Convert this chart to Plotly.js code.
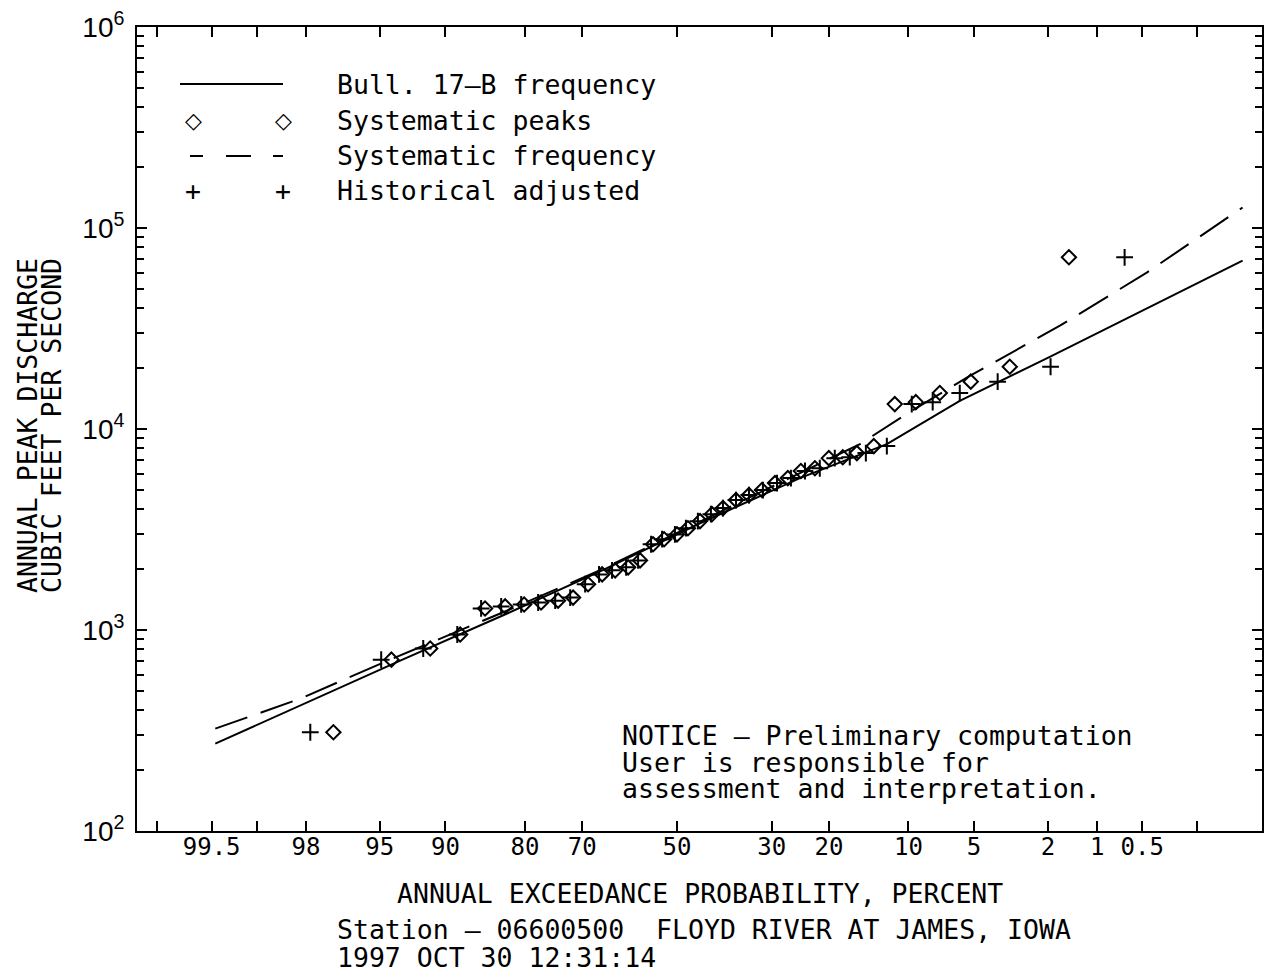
<!DOCTYPE html>
<html><head><meta charset="utf-8">
<script src="https://cdn.plot.ly/plotly-3.0.1.min.js"></script>
<style>html,body{margin:0;padding:0;background:#fff}#chart{width:1264px;height:972px}</style>
</head><body><div id="chart"></div>
<script>
// ---- data (annual exceedance probability in percent, discharge in cfs) ----
const bull17bPct = [99.47, 93.72, 82.63, 66.46, 44.91, 24.80, 12.26, 5.87, 1.95, 0.087];
const bull17bCfs = [272, 704, 1208, 1959, 3396, 5700, 8414, 13800, 22860, 68840];

const sysFreqPct = [99.47, 98.15, 94.37, 83.60, 66.46, 44.91, 24.80, 15.55, 10.17, 5.25, 1.70, 0.465, 0.087];
const sysFreqCfs = [323, 455, 713, 1208, 1982, 3475, 6039, 8414, 11885, 18370, 32650, 59980, 126500];

const peaksCfs = [310, 712, 809, 950, 1280, 1310, 1340, 1370, 1400, 1450, 1690, 1890, 1980, 2050, 2220,
  2670, 2830, 2990, 3210, 3480, 3770, 4040, 4430, 4690, 4970, 5380, 5700, 6180, 6380, 7160, 7240, 7590,
  8220, 13300, 13600, 15100, 17200, 20400, 71500];
const sysPeakPct = [97.14, 94.30, 91.40, 88.49, 85.59, 82.92, 80.12, 77.40, 74.47, 71.73, 68.86, 66.06,
  63.38, 60.64, 58.08, 55.25, 52.83, 49.98, 47.57, 44.91, 42.31, 39.94, 37.18, 34.50, 31.88, 29.36, 26.96,
  24.63, 22.25, 20.02, 17.93, 15.96, 13.79, 11.39, 9.30, 7.28, 5.19, 3.27, 1.50];
const histAdjPct = [97.88, 94.92, 91.99, 88.80, 86.08, 83.47, 80.57, 77.88, 74.98, 72.27, 69.43, 66.68,
  64.02, 61.07, 58.51, 55.69, 53.27, 50.44, 48.01, 45.38, 42.54, 39.94, 37.18, 34.50, 31.70, 28.98, 26.40,
  23.92, 21.45, 19.11, 16.93, 14.78, 12.26, 9.68, 7.84, 5.87, 3.79, 1.93, 0.66];

const tickPct  = [99.5, 98, 95, 90, 80, 70, 50, 30, 20, 10, 5, 2, 1, 0.5];
const tickText = ['99.5', '98', '95', '90', '80', '70', '50', '30', '20', '10', '5', '2', '1', '0.5'];
const unlabeledTickPct = [99.8, 99, 0.2];
const xRangePct = [99.86, 0.06];
const yTickVals = [1e2, 1e3, 1e4, 1e5, 1e6];
const yTickText = ['10<sup>2</sup>', '10<sup>3</sup>', '10<sup>4</sup>', '10<sup>5</sup>', '10<sup>6</sup>'];

// ---- normal-probability scale ----
function normInv(p){
  const a=[-3.969683028665376e+01,2.209460984245205e+02,-2.759285104469687e+02,1.383577518672690e+02,-3.066479806614716e+01,2.506628277459239e+00];
  const b=[-5.447609879822406e+01,1.615858368580409e+02,-1.556989798598866e+02,6.680131188771972e+01,-1.328068155288572e+01];
  const c=[-7.784894002430293e-03,-3.223964580411365e-01,-2.400758277161838e+00,-2.549732539343734e+00,4.374664141464968e+00,2.938163982698783e+00];
  const d=[7.784695709041462e-03,3.224671290700398e-01,2.445134137142996e+00,3.754408661907416e+00];
  const pl=0.02425, ph=1-pl; let q,r;
  if(p<pl){q=Math.sqrt(-2*Math.log(p));return (((((c[0]*q+c[1])*q+c[2])*q+c[3])*q+c[4])*q+c[5])/((((d[0]*q+d[1])*q+d[2])*q+d[3])*q+1);}
  if(p<=ph){q=p-0.5;r=q*q;return (((((a[0]*r+a[1])*r+a[2])*r+a[3])*r+a[4])*r+a[5])*q/(((((b[0]*r+b[1])*r+b[2])*r+b[3])*r+b[4])*r+1);}
  q=Math.sqrt(-2*Math.log(1-p));return -(((((c[0]*q+c[1])*q+c[2])*q+c[3])*q+c[4])*q+c[5])/((((d[0]*q+d[1])*q+d[2])*q+d[3])*q+1);
}
const toZ = pct => normInv(1 - pct/100);

const yMinor = [];
for (let e = 2; e < 6; e++) for (let m = 2; m <= 9; m++) yMinor.push(m * Math.pow(10, e));

const FONT = '"DejaVu Sans Mono", monospace';
const TXT = 26.5;

const traces = [
  {x: bull17bPct.map(toZ), y: bull17bCfs, mode: 'lines', line: {color: 'black', width: 2}, hoverinfo: 'skip'},
  {x: sysPeakPct.map(toZ), y: peaksCfs, mode: 'markers', hoverinfo: 'skip',
   marker: {symbol: 'diamond-open', size: 11, color: 'black', line: {width: 2, color: 'black'}}},
  {x: sysFreqPct.map(toZ), y: sysFreqCfs, mode: 'lines', line: {color: 'black', width: 2, dash: '34px,14px'}, hoverinfo: 'skip'},
  {x: histAdjPct.map(toZ), y: peaksCfs, mode: 'markers', hoverinfo: 'skip',
   marker: {symbol: 'cross-thin-open', size: 12, color: 'black', line: {width: 2, color: 'black'}}}
];

// helpers to place layout decorations in pixel terms relative to the plot frame (137..1262, 27..831)
const PX = px => (px - 137) / 1125;
const PY = py => (831 - py) / 804;
function txt(text, px, py, opts) {
  return Object.assign({text: text, x: PX(px), y: PY(py), xref: 'paper', yref: 'paper', showarrow: false,
    xanchor: 'left', yanchor: 'middle', font: {family: FONT, size: TXT, color: 'black'}}, opts || {});
}

const annotations = [
  txt('Bull. 17—B frequency', 335, 85),
  txt('Systematic peaks', 335, 121),
  txt('Systematic frequency', 335, 156),
  txt('Historical adjusted', 335, 191),
  txt('◇', 193, 121, {xanchor: 'center', font: {family: '"DejaVu Sans"', size: 22, color: 'black'}}),
  txt('◇', 283, 121, {xanchor: 'center', font: {family: '"DejaVu Sans"', size: 22, color: 'black'}}),
  txt('+', 193, 191, {xanchor: 'center'}),
  txt('+', 283, 191, {xanchor: 'center'}),
  txt('NOTICE — Preliminary computation', 620, 735),
  txt('User is responsible for', 620, 762),
  txt('assessment and interpretation.', 620, 788),
  txt('ANNUAL PEAK DISCHARGE', 27, 426, {xanchor: 'center', textangle: -90}),
  txt('CUBIC FEET PER SECOND', 51, 426, {xanchor: 'center', textangle: -90}),
  txt('ANNUAL EXCEEDANCE PROBABILITY, PERCENT', 700, 893, {xanchor: 'center'}),
  txt('Station — 06600500  FLOYD RIVER AT JAMES, IOWA', 335, 929),
  txt('1997 OCT 30 12:31:14', 335, 957)
];

const seg = (x0, x1, py) => ({type: 'line', xref: 'paper', yref: 'paper', x0: PX(x0), x1: PX(x1), y0: PY(py), y1: PY(py),
  line: {color: 'black', width: 2}});
const shapes = [seg(180, 283, 84), seg(190, 203, 156), seg(226, 251, 156), seg(273, 283, 156)];

const layout = {
  width: 1264, height: 972,
  margin: {l: 137, r: 2, t: 27, b: 141, pad: 0},
  paper_bgcolor: 'white', plot_bgcolor: 'white', showlegend: false,
  font: {family: FONT, size: 24, color: 'black'},
  xaxis: {
    range: xRangePct.map(toZ), tickmode: 'array', tickvals: tickPct.map(toZ), ticktext: tickText,
    ticks: 'inside', ticklen: 10, tickwidth: 2, tickcolor: 'black', ticklabelstandoff: -7,
    minor: {tickmode: 'array', tickvals: unlabeledTickPct.map(toZ), ticks: 'inside', ticklen: 10, tickwidth: 2, tickcolor: 'black', showgrid: false},
    showline: true, linewidth: 2, linecolor: 'black', mirror: 'ticks',
    showgrid: false, zeroline: false, tickfont: {family: FONT, size: 24, color: 'black'}
  },
  yaxis: {
    type: 'log', range: [2, 6], tickmode: 'array', tickvals: yTickVals, ticktext: yTickText,
    ticks: 'inside', ticklen: 10, tickwidth: 2, tickcolor: 'black', ticklabelstandoff: 5,
    minor: {tickmode: 'array', tickvals: yMinor, ticks: 'inside', ticklen: 7, tickwidth: 2, tickcolor: 'black', showgrid: false},
    showline: true, linewidth: 2, linecolor: 'black', mirror: 'ticks',
    showgrid: false, zeroline: false, tickfont: {family: '"Liberation Sans", Arial, sans-serif', size: 28, color: 'black'}
  },
  annotations: annotations,
  shapes: shapes
};

Plotly.newPlot('chart', traces, layout, {staticPlot: true, displayModeBar: false});
</script>
</body></html>
